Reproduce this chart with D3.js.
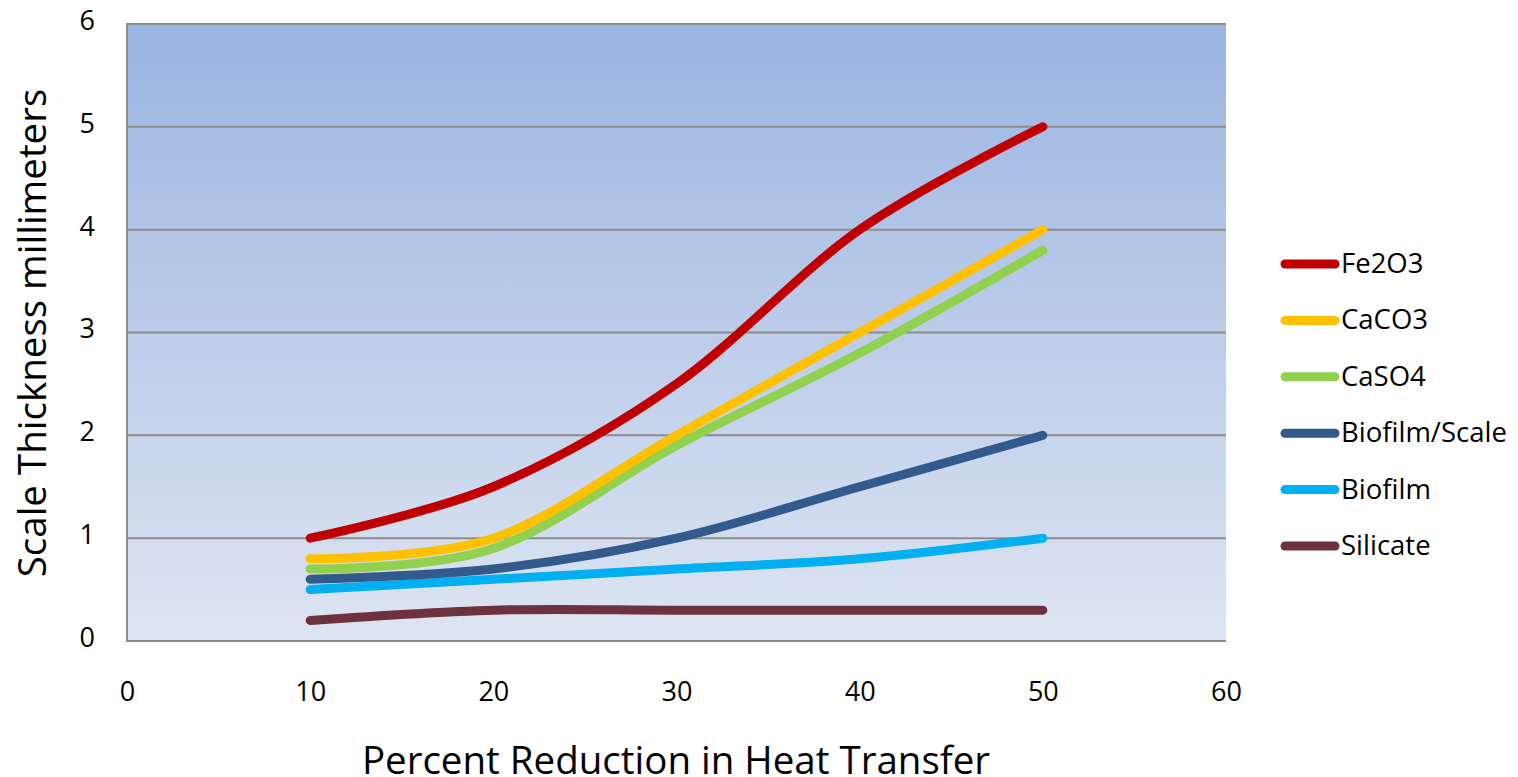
<!DOCTYPE html>
<html><head><meta charset="utf-8">
<script src="https://cdn.jsdelivr.net/npm/d3@7"></script>
<style>body{margin:0;background:#fff;font-family:"Open Sans","Noto Sans",sans-serif;}</style>
</head><body>
<svg id="c" width="1518" height="777"></svg>
<script>
const xValues = [10, 20, 30, 40, 50];
const seriesNames = ["Fe2O3", "CaCO3", "CaSO4", "Biofilm/Scale", "Biofilm", "Silicate"];
const fe2o3 = [1.0, 1.5, 2.5, 4.0, 5.0];
const caco3 = [0.8, 1.0, 2.0, 3.0, 4.0];
const caso4 = [0.7, 0.9, 1.9, 2.8, 3.8];
const biofilmScale = [0.6, 0.7, 1.0, 1.5, 2.0];
const biofilm = [0.5, 0.6, 0.7, 0.8, 1.0];
const silicate = [0.2, 0.3, 0.3, 0.3, 0.3];
const colors = ["#C00000", "#FFC000", "#92D050", "#325A8C", "#00B0F0", "#6E323F"];
const xTicks = [0, 10, 20, 30, 40, 50, 60];
const yTicks = [0, 1, 2, 3, 4, 5, 6];
const xTitle = "Percent Reduction in Heat Transfer";
const yTitle = "Scale Thickness millimeters";

const allSeries = [fe2o3, caco3, caso4, biofilmScale, biofilm, silicate];
const L = 127, R = 1226, T = 24, B = 641;
const FONT = "Open Sans, Noto Sans, sans-serif";
const svg = d3.select("#c");
const x = d3.scaleLinear().domain([0, 60]).range([L, R]);
const y = d3.scaleLinear().domain([0, 6]).range([B, T]);

const defs = svg.append("defs");
const g = defs.append("linearGradient").attr("id", "bg").attr("x1", 0).attr("y1", 0).attr("x2", 0).attr("y2", 1);
g.append("stop").attr("offset", "0%").attr("stop-color", "#9AB4E1");
g.append("stop").attr("offset", "100%").attr("stop-color", "#DEE5F2");
svg.append("rect").attr("x", L).attr("y", T).attr("width", R - L).attr("height", B - T).attr("fill", "url(#bg)");

// gridlines
svg.append("g").selectAll("line").data(yTicks).join("line")
  .attr("x1", L).attr("x2", R).attr("y1", d => y(d)).attr("y2", d => y(d))
  .attr("stroke", "#8C8C8C").attr("stroke-width", 2);
// left axis line
svg.append("line").attr("x1", L).attr("x2", L).attr("y1", T - 1).attr("y2", B + 1)
  .attr("stroke", "#8C8C8C").attr("stroke-width", 2);

// y axis labels
const yAxis = d3.axisLeft(y).tickValues(yTicks).tickSize(0).tickPadding(32).tickFormat(d3.format("d"));
const ya = svg.append("g").attr("transform", `translate(${L},0)`).call(yAxis);
ya.select(".domain").remove();
ya.selectAll("text").attr("font-size", 27).attr("font-weight", 500).attr("font-family", FONT).attr("fill", "#000").attr("dy", "0.2em");

const xAxis = d3.axisBottom(x).tickValues(xTicks).tickSize(0).tickPadding(41).tickFormat(d3.format("d"));
const xa = svg.append("g").attr("transform", `translate(0,${B})`).call(xAxis);
xa.select(".domain").remove();
xa.selectAll("text").attr("font-size", 27).attr("font-weight", 500).attr("font-family", FONT).attr("fill", "#000");

// lines
const line = d3.line().x((d, i) => x(xValues[i])).y(d => y(d)).curve(d3.curveCardinal.tension(0));
svg.append("g").selectAll("path").data(allSeries.map((s, i) => ({ s, i })).reverse()).join("path")
  .attr("d", d => line(d.s)).attr("fill", "none").attr("stroke", d => colors[d.i])
  .attr("stroke-width", 9).attr("stroke-linecap", "round").attr("stroke-linejoin", "round");

// legend
const lg = svg.append("g");
seriesNames.forEach((n, i) => {
  const ly = 264 + i * 56.4;
  lg.append("line").attr("x1", 1285).attr("x2", 1335).attr("y1", ly).attr("y2", ly)
    .attr("stroke", colors[i]).attr("stroke-width", 9).attr("stroke-linecap", "round");
  lg.append("text").attr("x", 1341).attr("y", ly + 9).attr("font-size", 27.5).attr("font-weight", 500)
    .attr("font-family", FONT).attr("fill", "#000").text(n);
});

// titles
svg.append("text").attr("x", 676).attr("y", 774).attr("text-anchor", "middle")
  .attr("font-size", 38.5).attr("font-weight", 500).attr("font-family", FONT).attr("fill", "#000").text(xTitle);
svg.append("text").attr("transform", `translate(46,${333}) rotate(-90)`).attr("text-anchor", "middle")
  .attr("font-size", 38.5).attr("font-weight", 500).attr("font-family", FONT).attr("fill", "#000").text(yTitle);
</script>
</body></html>
